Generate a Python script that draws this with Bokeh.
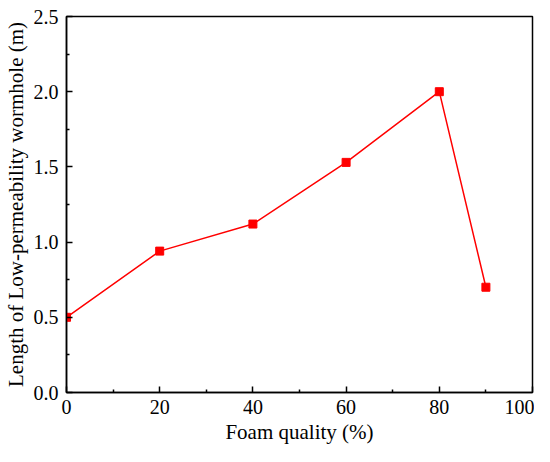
from bokeh.plotting import figure
from bokeh.models import Range1d, FixedTicker, CustomJSTickFormatter
from bokeh.embed import file_html
from bokeh.resources import INLINE

foam_quality = [0, 20, 40, 60, 80, 90]
wormhole_length = [0.50, 0.94, 1.12, 1.53, 2.00, 0.70]
x_ticks = [0, 20, 40, 60, 80, 100]
x_minor = [10, 30, 50, 70, 90]
y_ticks = [0.0, 0.5, 1.0, 1.5, 2.0, 2.5]
y_minor = [0.25, 0.75, 1.25, 1.75, 2.25]

p = figure(width=534, height=446, output_backend="svg", toolbar_location=None,
           x_range=Range1d(0, 100), y_range=Range1d(0, 2.5),
           min_border_left=65, min_border_right=2, min_border_top=16, min_border_bottom=53)
p.grid.visible = False
p.outline_line_color = "black"
p.outline_line_width = 1.5

p.line(foam_quality, wormhole_length, line_color="#ff0000", line_width=1.5)
p.scatter(foam_quality, wormhole_length, marker="square", size=8,
          fill_color="#ff0000", line_color="#ff0000")

font = "Liberation Serif"
p.xaxis.ticker = FixedTicker(ticks=x_ticks, minor_ticks=x_minor)
p.yaxis.ticker = FixedTicker(ticks=y_ticks, minor_ticks=y_minor)
p.yaxis.formatter = CustomJSTickFormatter(code="return tick.toFixed(1);")
p.xaxis.formatter = CustomJSTickFormatter(code="return tick.toFixed(0);")

for ax in (p.xaxis, p.yaxis):
    ax.major_tick_in = 6
    ax.major_tick_out = 0
    ax.minor_tick_in = 3
    ax.minor_tick_out = 0
    ax.axis_line_width = 1.5
    ax.major_tick_line_width = 1.5
    ax.minor_tick_line_width = 1.5
    ax.major_label_text_font = font
    ax.major_label_text_font_size = "20px"
    ax.major_label_text_color = "black"
    ax.axis_label_text_font = font
    ax.axis_label_text_font_size = "21px"
    ax.axis_label_text_font_style = "normal"
    ax.axis_label_text_color = "black"

p.xaxis.axis_label = "Foam quality (%)"
p.yaxis.axis_label = "Length of Low-permeability wormhole (m)"
p.xaxis.major_label_standoff = 7
p.yaxis.major_label_standoff = 8
p.xaxis.axis_label_standoff = 3
p.yaxis.axis_label_standoff = 3

open("out.html", "w").write(file_html(p, INLINE))
